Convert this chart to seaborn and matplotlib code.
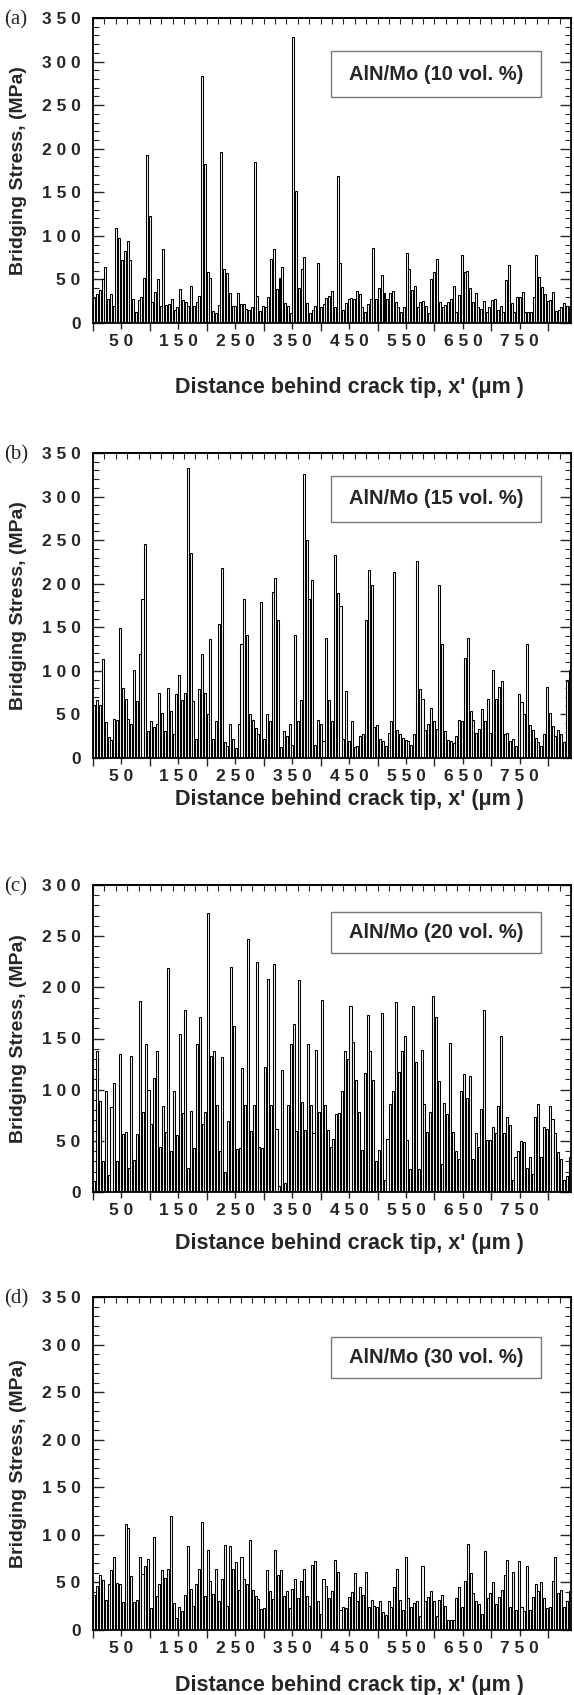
import numpy as np
import pandas as pd
import matplotlib
matplotlib.use("Agg")
import matplotlib.pyplot as plt
import seaborn as sns
from matplotlib.patches import Rectangle

# bridging stress (MPa) of each bar, read left to right off the scanned plot
stress_10 = [29, 33, 38, 50, 64, 28, 33, 20, 109, 98, 72, 83, 94, 72, 28, 13, 26, 30, 52, 193,
             123, 24, 36, 50, 20, 85, 21, 22, 28, 15, 18, 39, 26, 24, 20, 42, 20, 24, 31, 283,
             182, 59, 52, 14, 12, 21, 196, 62, 57, 35, 20, 19, 35, 22, 22, 16,
             15, 18, 185, 31, 14, 20, 18, 30, 73, 85, 39, 52, 64, 23, 20, 12, 328, 152, 40, 62,
             76, 23, 12, 15, 20, 69, 18, 22, 29, 31, 37, 18, 169, 69, 15, 23, 27, 29, 27, 37,
             33, 18, 13, 22, 27, 86, 27, 40, 55, 34, 27, 34, 37, 24, 18, 13, 18, 80,
             62, 38, 43, 18, 24, 25, 20, 12, 51, 59, 74, 24, 18, 21, 24, 27, 42, 13, 32, 78,
             59, 60, 40, 24, 34, 18, 16, 25, 13, 18, 26, 27, 15, 19, 13, 49, 66, 23, 13, 30,
             30, 36, 13, 13, 13, 30, 78, 53, 41, 33, 25, 26, 36, 14, 15, 18, 23, 19, 18]
stress_15 = [61, 67, 61, 114, 41, 24, 21, 45, 44, 149, 80, 68, 45, 39, 101, 65, 119, 183, 246, 31,
             42, 36, 39, 75, 52, 31, 80, 54, 28, 73, 95, 66, 75, 333, 235, 65, 22, 79, 119, 75,
             51, 137, 22, 43, 154, 218, 18, 14, 39, 22, 12, 39, 131, 182, 141, 50,
             44, 34, 28, 179, 22, 50, 42, 191, 207, 158, 13, 31, 25, 39, 15, 141, 42, 67, 326, 250,
             182, 204, 15, 44, 39, 20, 138, 67, 42, 233, 189, 175, 22, 77, 20, 42, 13, 14, 25, 28,
             158, 216, 199, 36, 38, 22, 20, 14, 29, 42, 214, 32, 27, 23, 21, 20,
             15, 28, 226, 79, 68, 32, 39, 57, 42, 33, 199, 131, 31, 21, 20, 17, 25, 44, 42, 115,
             138, 54, 44, 29, 33, 56, 43, 68, 29, 101, 68, 81, 88, 27, 29, 20, 22, 14, 73, 64,
             50, 131, 38, 32, 23, 18, 14, 28, 81, 52, 37, 25, 32, 27, 18, 88, 101]
stress_20 = [11, 138, 89, 30, 99, 17, 83, 107, 30, 135, 57, 59, 23, 133, 31, 57, 187, 78, 145, 100,
             66, 111, 138, 44, 84, 59, 219, 40, 99, 56, 154, 77, 178, 23, 79, 43, 145, 171, 66, 78,
             273, 133, 138, 85, 40, 132, 20, 69, 220, 162, 42, 43, 121, 85,
             247, 60, 85, 225, 44, 43, 122, 208, 85, 223, 62, 6, 119, 9, 85, 145, 164, 60, 207, 88,
             61, 145, 85, 58, 139, 78, 188, 85, 61, 44, 52, 76, 77, 99, 138, 130, 182, 147, 109, 78,
             41, 116, 173, 138, 109, 30, 41, 175, 12, 52, 86, 99, 186, 117, 138, 152,
             51, 22, 182, 127, 22, 139, 86, 59, 78, 192, 171, 108, 27, 87, 76, 146, 59, 40, 32, 99,
             115, 92, 113, 32, 58, 44, 81, 178, 51, 51, 64, 58, 84, 152, 58, 73, 65, 12, 34, 40,
             50, 49, 23, 34, 18, 73, 86, 34, 64, 62, 84, 71, 58, 39, 32, 12, 16, 34]
stress_30 = [37, 46, 58, 53, 32, 48, 63, 77, 49, 48, 29, 111, 107, 57, 29, 32, 77, 59, 67, 75,
             23, 98, 36, 48, 63, 55, 64, 120, 28, 13, 24, 20, 37, 88, 43, 25, 48, 64, 113, 36,
             84, 52, 38, 64, 30, 54, 89, 25, 88, 64, 71, 42, 77, 54, 48, 95, 42, 36, 33, 22,
             23, 63, 41, 33, 84, 58, 63, 36, 41, 23, 43, 54, 34, 52, 64, 36, 25, 68, 72, 31,
             17, 54, 46,
             34, 41, 74, 61, 21, 24, 23, 35, 40, 60, 30, 45, 37, 61, 24, 32, 25, 24, 30, 19,
             16, 30, 24, 45, 64, 32, 21, 77, 34, 24, 28, 30, 15, 67, 31, 35, 41, 30, 15, 32,
             37, 25, 10, 10, 10, 34, 45, 24, 51, 90, 60, 39, 31, 27, 17, 83, 34, 39, 50, 27,
             35, 42, 58, 74, 24, 61, 21, 73, 24, 20, 67, 21, 35, 48, 41, 50, 34, 23, 24, 52,
             77, 39, 42, 24, 31, 41]

panel_tags = ["(a)", "(b)", "(c)", "(d)"]
box_labels = ["AlN/Mo (10 vol. %)", "AlN/Mo (15 vol. %)",
              "AlN/Mo (20 vol. %)", "AlN/Mo (30 vol. %)"]
y_tops = [350, 350, 300, 350]
y_tick_text = {350: ["0", "5 0", "1 0 0", "1 5 0", "2 0 0", "2 5 0", "3 0 0", "3 5 0"],
               300: ["0", "5 0", "1 0 0", "1 5 0", "2 0 0", "2 5 0", "3 0 0"]}
x_tick_values = [50, 150, 250, 350, 450, 550, 650, 750]
x_tick_text = ["5 0", "1 5 0", "2 5 0", "3 5 0", "4 5 0", "5 5 0", "6 5 0", "7 5 0"]
x_end = 840

sns.set_theme(style="ticks")
plt.rcParams["font.family"] = ["Liberation Sans", "DejaVu Sans"]
plt.rcParams["font.weight"] = "bold"

W, H = 574, 1695
fig = plt.figure(figsize=(W / 100, H / 100), dpi=100)

# pixel layout measured on the reference: axes top, axes bottom, xlabel centre, box top, box bottom
layout = [(18, 323, 387, 51, 97),
          (453, 758, 800, 476, 522),
          (885, 1192, 1243, 912, 953),
          (1297, 1630, 1686, 1337, 1378)]
ax_left, ax_right = 93, 571

for k, vals in enumerate([stress_10, stress_15, stress_20, stress_30]):
    top_px, bot_px, xlab_px, box_t, box_b = layout[k]
    ax = fig.add_axes([ax_left / W, 1 - bot_px / H, (ax_right - ax_left) / W, (bot_px - top_px) / H])

    n = len(vals)
    step = x_end / n
    df = pd.DataFrame({"x": (np.arange(n) + 0.5) * step, "stress": vals})
    sns.barplot(data=df, x="x", y="stress", native_scale=True, width=0.72,
                color="#f4f4f4", saturation=1, edgecolor="black", linewidth=0.75,
                errorbar=None, ax=ax)

    ymax = y_tops[k]
    ax.set_xlim(0, x_end)
    ax.set_ylim(0, ymax)
    ax.set_xlabel("")
    ax.set_ylabel("")

    ax.set_yticks(np.arange(0, ymax + 1, 50))
    ax.set_yticklabels(y_tick_text[ymax], fontsize=12.5, fontweight="bold")
    ax.set_yticks(np.arange(0, ymax + 1, 10), minor=True)
    ax.tick_params(axis="y", which="major", direction="in", length=8, width=1, left=True, right=True, pad=9)
    ax.tick_params(axis="y", which="minor", direction="in", length=4, width=0.8, left=True, right=True)

    ax.set_xticks(x_tick_values)
    ax.set_xticklabels(x_tick_text, fontsize=12.5, fontweight="bold")
    ax.set_xticks(np.arange(0, x_end + 1, 100), minor=True)
    ax.tick_params(axis="x", which="major", direction="out", length=4, width=1, pad=4)
    ax.tick_params(axis="x", which="minor", direction="out", length=6, width=1)

    top = ax.secondary_xaxis("top")
    top.set_xticks(np.arange(0, x_end + 1, 20))
    top.set_xticklabels([])
    top.tick_params(axis="x", direction="in", length=4, width=0.8)

    for s in ax.spines.values():
        s.set_linewidth(1.3)
        s.set_color("black")

    # label box in the upper right
    h_ax = bot_px - top_px
    ax.add_patch(Rectangle((0.498, (bot_px - box_b) / h_ax), 0.439, (box_b - box_t) / h_ax,
                           transform=ax.transAxes, facecolor="white", edgecolor="#777777",
                           linewidth=1.0, zorder=5))
    ax.text(0.7175, (bot_px - (box_t + box_b) / 2) / h_ax, box_labels[k], transform=ax.transAxes,
            ha="center", va="center", fontsize=14.5, fontweight="bold", zorder=6)

    fig.text(19 / W, 1 - (top_px + bot_px) / 2 / H, "Bridging Stress, (MPa)", rotation=90,
             ha="center", va="center", fontsize=14, fontweight="bold")
    fig.text(349 / W, 1 - xlab_px / H, "Distance behind crack tip, x' (μm )",
             ha="center", va="center", fontsize=15.5, fontweight="bold")
    fig.text(16 / W, 1 - (top_px + 2) / H, panel_tags[k], ha="center", va="center",
             fontsize=15, fontweight="normal", family="Liberation Serif")

fig.savefig("out.png", dpi=100)
